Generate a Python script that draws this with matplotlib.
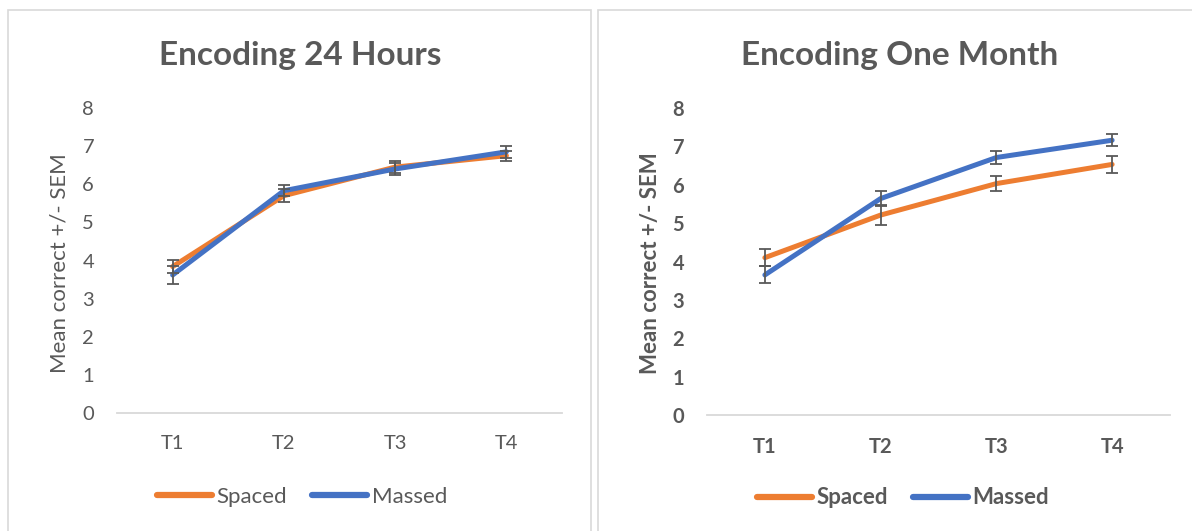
import matplotlib
matplotlib.use("Agg")
import matplotlib.pyplot as plt
from matplotlib.patches import Rectangle
from matplotlib.lines import Line2D

# Test sessions
sessions = ["T1", "T2", "T3", "T4"]

# Encoding 24 Hours
spaced_24h = [3.84, 5.70, 6.45, 6.75]
spaced_24h_sem = [0.18, 0.17, 0.15, 0.13]
massed_24h = [3.62, 5.83, 6.40, 6.85]
massed_24h_sem = [0.24, 0.15, 0.16, 0.16]

# Encoding One Month
spaced_1m = [4.10, 5.21, 6.03, 6.53]
spaced_1m_sem = [0.22, 0.26, 0.20, 0.22]
massed_1m = [3.65, 5.64, 6.71, 7.16]
massed_1m_sem = [0.22, 0.19, 0.17, 0.15]

yticks = [0, 1, 2, 3, 4, 5, 6, 7, 8]

ORANGE = "#ED7D31"
BLUE = "#4472C4"
TEXT = "#595959"
ERR = "#595959"
AXIS = "#D9D9D9"

W, H = 1192, 531
fig = plt.figure(figsize=(W / 100, H / 100), dpi=100)
fig.patch.set_facecolor("white")


def px_axes(x0, y0, x1, y1):
    return fig.add_axes([x0 / W, 1 - y1 / H, (x1 - x0) / W, (y1 - y0) / H])


# Panel borders
for x0, x1 in [(8, 591), (598, 1200)]:
    fig.patches.append(Rectangle((x0 / W, -0.1), (x1 - x0) / W, 1 - 10 / H + 0.1,
                                 transform=fig.transFigure, fill=False,
                                 edgecolor=AXIS, linewidth=1.2))


def draw_panel(ax, title, spaced, spaced_err, massed, massed_err, bold,
               title_x, ylabel_x, legend_pos):
    weight = "bold" if bold else "normal"
    x = list(range(len(sessions)))
    for vals, errs, col, z in [(spaced, spaced_err, ORANGE, 3), (massed, massed_err, BLUE, 4)]:
        ax.plot(x, vals, color=col, linewidth=3.6, solid_capstyle="round",
                solid_joinstyle="round", zorder=z)
        ax.errorbar(x, vals, yerr=errs, fmt="none", ecolor=ERR, elinewidth=1.3,
                    capsize=4.5, capthick=1.3, zorder=5)
    ax.set_xlim(-0.5, len(sessions) - 0.5)
    ax.set_ylim(0, 8)
    ax.set_xticks(x)
    ax.set_xticklabels(sessions, fontsize=14.5, color=TEXT, fontweight=weight,
                       family="Lato")
    ax.set_yticks(yticks)
    ax.set_yticklabels([str(v) for v in yticks], fontsize=14.5, color=TEXT,
                       fontweight=weight, family="Lato")
    ax.tick_params(length=0)
    ax.tick_params(axis="x", pad=16)
    ax.tick_params(axis="y", pad=16.5)
    for s in ["top", "right", "left"]:
        ax.spines[s].set_visible(False)
    ax.spines["bottom"].set_color(AXIS)
    ax.spines["bottom"].set_linewidth(1.3)
    ax.set_facecolor("none")

    fig.text(title_x / W, 1 - 55 / H, title, ha="center", va="center",
             fontsize=24, fontweight="bold", color=TEXT, family="Lato")
    fig.text(ylabel_x / W, 1 - 263 / H, "Mean correct +/- SEM", rotation=90,
             ha="center", va="center", fontsize=16, color=TEXT,
             fontweight=weight, family="Lato")

    handles = [Line2D([], [], color=ORANGE, linewidth=4.5, solid_capstyle="round"),
               Line2D([], [], color=BLUE, linewidth=4.5, solid_capstyle="round")]
    ax.legend(handles, ["Spaced", "Massed"], loc="center",
              bbox_to_anchor=legend_pos, bbox_transform=fig.transFigure,
              ncol=2, frameon=False, handlelength=2.5, handletextpad=0.2,
              columnspacing=1.1,
              prop={"family": "Lato", "size": 16, "weight": weight},
              labelcolor=TEXT)


ax1 = px_axes(117, 108, 562, 413)
draw_panel(ax1, "Encoding 24 Hours", spaced_24h, spaced_24h_sem,
           massed_24h, massed_24h_sem, False, 300, 60, (302 / W, 1 - 497 / H))

ax2 = px_axes(707, 108, 1170, 415)
draw_panel(ax2, "Encoding One Month", spaced_1m, spaced_1m_sem,
           massed_1m, massed_1m_sem, True, 900, 651, (903 / W, 1 - 498 / H))

fig.savefig("out.png", dpi=100, facecolor="white")
